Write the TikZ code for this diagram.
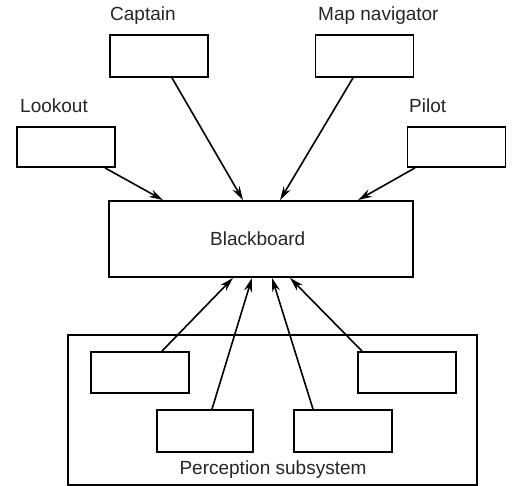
\documentclass[tikz,border=0pt]{standalone}
\usepackage{fontspec}
\setmainfont{Liberation Sans}
\usetikzlibrary{arrows.meta}
\newcommand\diagfont{\fontsize{19}{22}\selectfont}
\begin{document}
\begin{tikzpicture}[x=1pt,y=-1pt,
  box/.style={draw, line width=1.8pt, minimum width=98pt, minimum height=42pt, inner sep=0pt},
  lbl/.style={font=\diagfont, inner sep=0pt, anchor=base west, text=black!85},
  arr/.style={-{Stealth[length=14pt,width=8pt]}, line width=1.6pt}]
\useasboundingbox (0,0) rectangle (512,486);
\fill[white] (0,0) rectangle (512,486);

% agents feeding the blackboard from above
\node[box] (captain) at (159,56) {};
\node[box] (mapnav)  at (364.5,56) {};
\node[box, minimum height=40pt] (lookout) at (66,147) {};
\node[box, minimum height=40pt] (pilot)   at (456.5,147) {};

\node[lbl] (captainlbl) at (110,21)  {Captain};
\node[lbl] (mapnavlbl)  at (318,21)  {Map navigator};
\node[lbl] (lookoutlbl) at (20,113)  {Lookout};
\node[lbl] (pilotlbl)   at (409,113) {Pilot};

% shared blackboard
\node[draw, line width=1.8pt, minimum width=304pt, minimum height=76pt, inner sep=0pt]
  (bb) at (261,239) {};
\node[lbl] (bblbl) at (210,246) {Blackboard};

% perception subsystem and its sensors
\node[draw, line width=1.8pt, minimum width=409pt, minimum height=150pt, inner sep=0pt]
  (percep) at (272.5,410) {};
\node[lbl, anchor=base] (perceplbl) at (273,475) {Perception subsystem};
\node[box, minimum height=41pt] (sensA) at (140,372.5) {};
\node[box, minimum width=96pt]  (sensB) at (205,431) {};
\node[box]                      (sensC) at (343,431) {};
\node[box, minimum height=41pt] (sensD) at (407,372.5) {};

% connectors into the blackboard
\draw[arr] ([xshift=39pt]lookout.south)  -- ([xshift=-98pt]bb.north);
\draw[arr] ([xshift=13pt]captain.south)  -- ([xshift=-18pt]bb.north);
\draw[arr] ([xshift=-11.5pt]mapnav.south) -- ([xshift=19pt]bb.north);
\draw[arr] ([xshift=-41.5pt]pilot.south) -- ([xshift=97pt]bb.north);

\draw[arr] ([xshift=22pt]sensA.north)  -- ([xshift=-28pt]bb.south);
\draw[arr] ([xshift=7pt]sensB.north)   -- ([xshift=-9pt]bb.south);
\draw[arr] ([xshift=-30pt]sensC.north) -- ([xshift=11pt]bb.south);
\draw[arr] ([xshift=-45pt]sensD.north) -- ([xshift=29pt]bb.south);
\end{tikzpicture}
\end{document}
